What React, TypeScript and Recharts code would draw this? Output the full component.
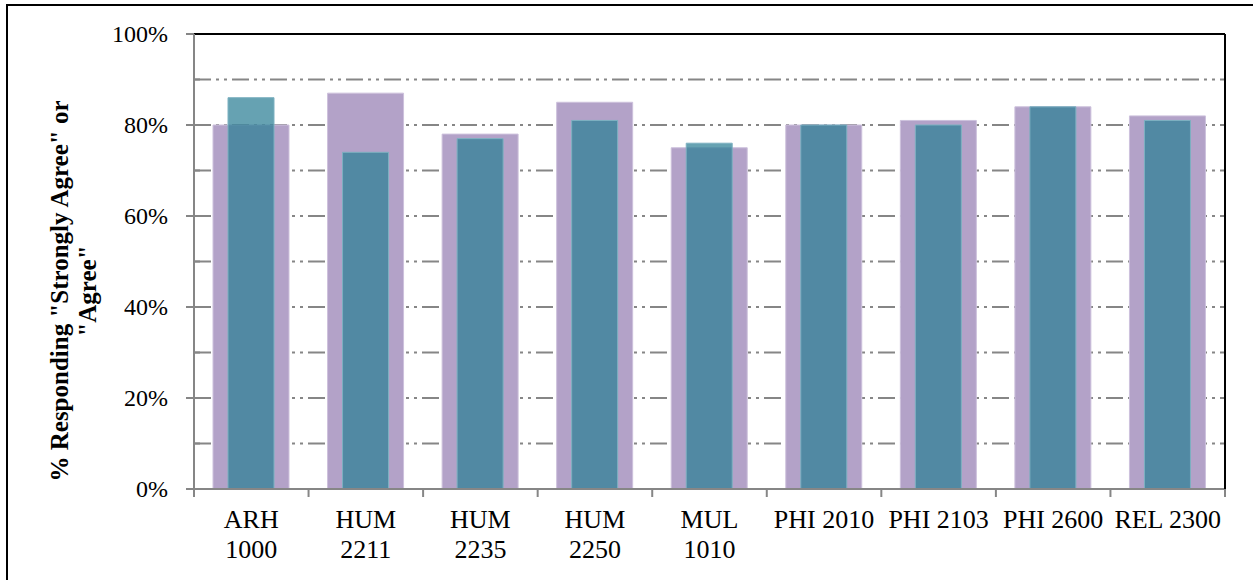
import { BarChart, Bar, XAxis, YAxis, CartesianGrid } from 'recharts'

// Course codes; '\n' marks where a label wraps onto a second line
const CATEGORIES = [
  'ARH\n1000', 'HUM\n2211', 'HUM\n2235', 'HUM\n2250', 'MUL\n1010',
  'PHI 2010', 'PHI 2103', 'PHI 2600', 'REL 2300',
]
// wide purple bars
const WIDE_VALUES = [80, 87, 78, 85, 75, 80, 81, 84, 82]
// narrow teal bars drawn on top
const NARROW_VALUES = [86, 74, 77, 81, 76, 80, 80, 84, 81]
const Y_TICKS = [0, 10, 20, 30, 40, 50, 60, 70, 80, 90, 100]
const Y_TITLE = ['% Responding "Strongly Agree" or', '"Agree"']

const W = 1253
const H = 580
// the top x axis and right y axis take 1px each; they only draw the black frame lines
const MARGIN = { top: 33, right: 27, bottom: 0, left: 0 }
const Y_AXIS_W = 194
const X_AXIS_H = 91
const BAND = (W - MARGIN.left - MARGIN.right - 1 - Y_AXIS_W) / CATEGORIES.length

const AXIS_GRAY = '#868686'
const FONT = '"Liberation Serif", "Times New Roman", serif'

const data = CATEGORIES.map((name, i) => ({
  name,
  wide: WIDE_VALUES[i],
  narrow: NARROW_VALUES[i],
}))

function CourseTick(props: any) {
  const { x, y, payload, index } = props
  const lines = String(payload.value).split('\n')
  const left = x - BAND / 2
  const right = x + BAND / 2
  return (
    <g>
      <line x1={left} x2={left} y1={y} y2={y + 8} stroke={AXIS_GRAY} strokeWidth={2} />
      {index === CATEGORIES.length - 1 && (
        <line x1={right} x2={right} y1={y} y2={y + 8} stroke={AXIS_GRAY} strokeWidth={2} />
      )}
      <text x={x} y={y + 39} textAnchor="middle" fontFamily={FONT} fontSize={26} fill="#000">
        {lines.map((l, i) => (
          <tspan key={i} x={x} dy={i === 0 ? 0 : 30}>{l}</tspan>
        ))}
      </text>
    </g>
  )
}

function PercentTick(props: any) {
  const { x, y, payload } = props
  const v = payload.value
  const major = v % 20 === 0
  return (
    <g>
      {major
        ? <line x1={x - 8} x2={x} y1={y} y2={y} stroke={AXIS_GRAY} strokeWidth={2} />
        : <line x1={x} x2={x + 6} y1={y} y2={y} stroke={AXIS_GRAY} strokeWidth={2} />}
      {major && (
        <text x={x - 26} y={y} dy="0.35em" textAnchor="end" fontFamily={FONT} fontSize={24} fill="#000">
          {v}%
        </text>
      )}
    </g>
  )
}

export default function App() {
  return (
    <div style={{ position: 'absolute', left: 0, top: 0, width: W, height: H, background: '#fff', overflow: 'hidden' }}>
      <div style={{
        position: 'absolute', left: 6, top: 4, width: W, height: H,
        borderTop: '2px solid #000', borderLeft: '2px solid #000',
      }} />
      <BarChart width={W} height={H} data={data} margin={MARGIN}>
        <CartesianGrid
          xAxisId="base" yAxisId="pct"
          vertical={false}
          stroke={AXIS_GRAY} strokeWidth={2}
          strokeDasharray="17 5 3 5 3 5"
        />
        <XAxis
          xAxisId="base" dataKey="name" height={X_AXIS_H} interval={0}
          tick={<CourseTick />} tickSize={0} tickMargin={0} tickLine={false}
          axisLine={{ stroke: AXIS_GRAY, strokeWidth: 2 }}
        />
        <XAxis
          xAxisId="top" dataKey="name" orientation="top" height={1}
          tick={false} tickLine={false}
          axisLine={{ stroke: '#000', strokeWidth: 2 }}
        />
        <YAxis
          yAxisId="pct" width={Y_AXIS_W} domain={[0, 100]} ticks={Y_TICKS} interval={0}
          tick={<PercentTick />} tickSize={0} tickMargin={0} tickLine={false}
          axisLine={{ stroke: AXIS_GRAY, strokeWidth: 2 }}
        />
        <YAxis
          yAxisId="edge" orientation="right" width={1} domain={[0, 100]}
          tick={false} tickLine={false}
          axisLine={{ stroke: '#000', strokeWidth: 2 }}
        />
        <Bar
          xAxisId="base" yAxisId="pct" dataKey="wide" barSize={76}
          fill="#b3a2c8" stroke="#cdc1dc" strokeWidth={1}
          isAnimationActive={false}
        />
        <Bar
          xAxisId="top" yAxisId="pct" dataKey="narrow" barSize={46}
          fill="#2d8095" fillOpacity={0.73} stroke="#7db1c1" strokeWidth={1}
          isAnimationActive={false}
        />
      </BarChart>
      <svg width={W} height={H} style={{ position: 'absolute', left: 0, top: 0, pointerEvents: 'none' }}>
        <text
          transform="translate(74,291) rotate(-90)"
          textAnchor="middle" fontFamily={FONT} fontSize={25} fontWeight="bold" fill="#000"
        >
          <tspan x={0} y={-6}>{Y_TITLE[0]}</tspan>
          <tspan x={0} dy={28}>{Y_TITLE[1]}</tspan>
        </text>
      </svg>
    </div>
  )
}
